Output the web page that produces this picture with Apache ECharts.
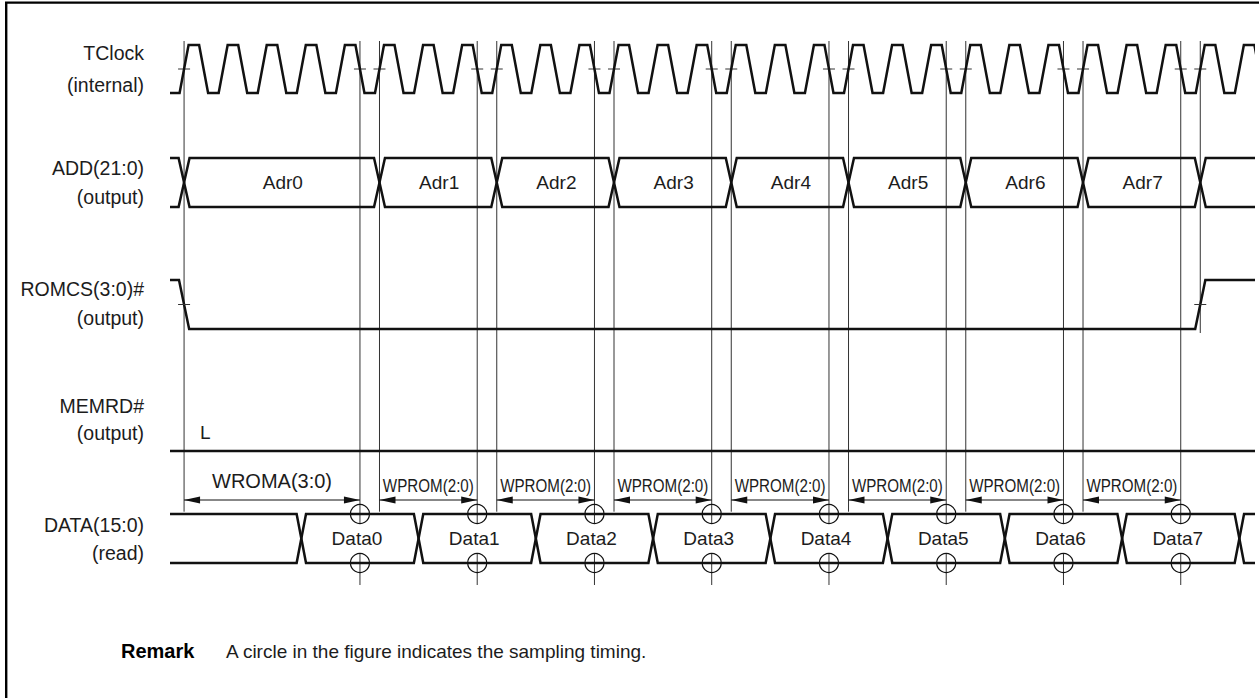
<!DOCTYPE html>
<html>
<head>
<meta charset="utf-8">
<script src="https://cdn.jsdelivr.net/npm/echarts/dist/echarts.min.js"></script>
<style>
html,body{margin:0;padding:0;background:#fff;}
#chart{width:1259px;height:698px;}
</style>
</head>
<body>
<div id="chart"></div>
<script>
// ---------------- data (times in clock cycles, t=0 at first rising edge) ----------------
const signalNames = ['TClock', 'ADD(21:0)', 'ROMCS(3:0)#', 'MEMRD#', 'DATA(15:0)'];
const signalDirs  = ['(internal)', '(output)', '(output)', '(output)', '(read)'];
const clockRises  = [0, 1, 2, 3, 4, 5, 6, 7, 8, 9, 10, 11, 12, 13, 14, 15, 16, 17, 18, 19, 20, 21, 22, 23, 24, 25, 26, 27];
const addrLabels  = ['Adr0', 'Adr1', 'Adr2', 'Adr3', 'Adr4', 'Adr5', 'Adr6', 'Adr7'];
const addrChanges = [0, 5, 8, 11, 14, 17, 20, 23, 26];
const romcsEdges  = [0, 26];           // falling edge, rising edge
const memrdText   = 'L';
const dataLabels  = ['Data0', 'Data1', 'Data2', 'Data3', 'Data4', 'Data5', 'Data6', 'Data7'];
const dataChanges = [3, 6, 9, 12, 15, 18, 21, 24, 27];
const accessStarts = [0, 5, 8, 11, 14, 17, 20, 23];
const sampleTimes  = [4.5, 7.5, 10.5, 13.5, 16.5, 19.5, 22.5, 25.5];
const accessEnd    = 26;
const waitLabels   = ['WROMA(3:0)', 'WPROM(2:0)', 'WPROM(2:0)', 'WPROM(2:0)', 'WPROM(2:0)', 'WPROM(2:0)', 'WPROM(2:0)', 'WPROM(2:0)'];
const remarkTitle  = 'Remark';
const remarkText   = 'A circle in the figure indicates the sampling timing.';

// ---------------- layout / style ----------------
const XMIN = -0.36, XMAX = 27.4;
const ROW = {
  clock: {hi: 45, lo: 93},
  add:   {hi: 158, lo: 207},
  romcs: {hi: 280, lo: 329},
  memrd: {lo: 451},
  data:  {hi: 514, lo: 563}
};
const GUIDE = {top: 41, startBottom: 511.7, sampleBottom: 585, endBottom: 333, dimY: 500};
const CIRCLE_R = 9.5;
const LABEL_Y = [[53.3, 85], [167.7, 196.7], [289.3, 318.3], [406, 433.3], [525, 553.3]];
const INK = '#111';
const TXT = '#1c1c1c';
const FONT = '"Liberation Sans", Arial, Helvetica, sans-serif';
const WAVE_W = 2.5;

const chart = echarts.init(document.getElementById('chart'), null, {renderer: 'svg'});

function line(p1, p2, w, color) {
  return {type: 'line', shape: {x1: p1[0], y1: p1[1], x2: p2[0], y2: p2[1]},
          style: {stroke: color || INK, lineWidth: w || 1}};
}
function poly(api, pts, closed) {
  return {type: closed ? 'polygon' : 'polyline',
          shape: {points: pts.map(p => api.coord(p))},
          style: {stroke: INK, lineWidth: WAVE_W, fill: closed ? 'none' : null, lineJoin: 'miter'}};
}
function txt(x, y, text, size, opts) {
  opts = opts || {};
  return {type: 'text', x: x, y: y, scaleX: opts.scaleX || 1,
          style: {text: text, fill: TXT, fontSize: size, fontFamily: FONT, fontWeight: opts.bold ? 'bold' : 'normal',
                  align: opts.align || 'center', verticalAlign: 'middle',
                  textAlign: opts.align || 'center', textVerticalAlign: 'middle'}};
}

// ---- render functions ----
function renderGuides(params, api) {
  const ch = [];
  accessStarts.forEach(t => {
    const x = api.coord([t, 0])[0];
    ch.push(line([x, GUIDE.top], [x, GUIDE.startBottom], 1, '#333'));
  });
  sampleTimes.forEach(t => {
    const x = api.coord([t, 0])[0];
    // interrupted inside the data bus (between the two sampling circles)
    ch.push(line([x, GUIDE.top], [x, ROW.data.hi + CIRCLE_R], 1, '#333'));
    ch.push(line([x, ROW.data.lo - CIRCLE_R], [x, GUIDE.sampleBottom], 1, '#333'));
  });
  const xe = api.coord([accessEnd, 0])[0];
  ch.push(line([xe, GUIDE.top], [xe, GUIDE.endBottom], 1, '#333'));
  // tick marks on the clock at every guide
  const cm = (ROW.clock.hi + ROW.clock.lo) / 2;
  accessStarts.concat(sampleTimes, [accessEnd]).forEach(t => {
    const p = api.coord([t, cm]);
    ch.push(line([p[0] - 6, p[1]], [p[0] + 6, p[1]], 1, '#333'));
  });
  return {type: 'group', children: ch};
}

function renderClock(params, api) {
  const hi = ROW.clock.hi, lo = ROW.clock.lo;
  const pts = [[XMIN - 1, lo]];
  clockRises.forEach(n => {
    pts.push([n - 0.115, lo], [n + 0.115, hi], [n + 0.385, hi], [n + 0.615, lo]);
  });
  pts.push([XMAX + 1, lo]);
  return poly(api, pts, false);
}

function busGroup(api, changes, labels, row, h, labelShift) {
  const hi = row.hi, lo = row.lo, mid = (hi + lo) / 2;
  const ch = [];
  const a0 = changes[0];
  ch.push(poly(api, [[XMIN - 1, hi], [a0 - h, hi], [a0, mid], [a0 - h, lo], [XMIN - 1, lo]], false));
  for (let i = 0; i < changes.length - 1; i++) {
    const a = changes[i], b = changes[i + 1];
    ch.push(poly(api, [[a, mid], [a + h, hi], [b - h, hi], [b, mid], [b - h, lo], [a + h, lo]], true));
    const c = api.coord([(a + b) / 2, mid]);
    ch.push(txt(c[0] + labelShift, c[1], labels[i], 19));
  }
  const z = changes[changes.length - 1];
  ch.push(poly(api, [[XMAX + 1, hi], [z + h, hi], [z, mid], [z + h, lo], [XMAX + 1, lo]], false));
  return ch;
}

function renderAddr(params, api) {
  return {type: 'group', children: busGroup(api, addrChanges, addrLabels, ROW.add, 0.14, 1)};
}

function renderRomcs(params, api) {
  const hi = ROW.romcs.hi, lo = ROW.romcs.lo, mid = (hi + lo) / 2;
  const f = romcsEdges[0], r = romcsEdges[1], e = 0.13;
  const ch = [poly(api, [[XMIN - 1, hi], [f - e, hi], [f + e, lo], [r - e, lo], [r + e, hi], [XMAX + 1, hi]], false)];
  romcsEdges.forEach(t => {
    const p = api.coord([t, mid]);
    ch.push(line([p[0] - 6, p[1]], [p[0] + 6, p[1]], 1, '#333'));
  });
  return {type: 'group', children: ch};
}

function renderMemrd(params, api) {
  const lo = ROW.memrd.lo;
  const p = api.coord([accessStarts[0], lo]);
  return {type: 'group', children: [
    poly(api, [[XMIN - 1, lo], [XMAX + 1, lo]], false),
    txt(p[0] + 16, p[1] - 18.5, memrdText, 19, {align: 'left'})
  ]};
}

function renderData(params, api) {
  const ch = busGroup(api, dataChanges, dataLabels, ROW.data, 0.12, -3);
  sampleTimes.forEach(t => {
    [ROW.data.hi, ROW.data.lo].forEach(y => {
      const p = api.coord([t, y]);
      ch.push({type: 'circle', shape: {cx: p[0], cy: p[1], r: CIRCLE_R}, style: {stroke: INK, lineWidth: 1.2, fill: 'none'}});
    });
  });
  return {type: 'group', children: ch};
}

function renderDims(params, api) {
  const ch = [];
  const y = GUIDE.dimY, L = 16, W = 3.6;
  accessStarts.forEach((s, i) => {
    const x0 = api.coord([s, y])[0], x1 = api.coord([sampleTimes[i], y])[0];
    ch.push(line([x0, y], [x1, y], 1, INK));
    ch.push({type: 'polygon', shape: {points: [[x0, y], [x0 + L, y - W], [x0 + L, y + W]]}, style: {fill: INK}});
    ch.push({type: 'polygon', shape: {points: [[x1, y], [x1 - L, y - W], [x1 - L, y + W]]}, style: {fill: INK}});
    const cx = (x0 + x1) / 2;
    if (i === 0) ch.push(txt(cx, 481, waitLabels[i], 20));
    else ch.push(txt(cx, 486, waitLabels[i], 18.5, {scaleX: 0.82}));
  });
  return {type: 'group', children: ch};
}

// ---- signal name labels & frame ----
const graphics = [
  {type: 'rect', shape: {x: 6.2, y: 2.6, width: 1300, height: 800}, style: {fill: 'none', stroke: '#000', lineWidth: 2.4}, silent: true}
];
signalNames.forEach((n, i) => {
  graphics.push({type: 'text', x: 144, y: LABEL_Y[i][0], style: {text: n, fill: TXT, fontSize: 19.5, fontFamily: FONT, align: 'right', verticalAlign: 'middle', textAlign: 'right', textVerticalAlign: 'middle'}});
  graphics.push({type: 'text', x: 144, y: LABEL_Y[i][1], style: {text: signalDirs[i], fill: TXT, fontSize: 19.5, fontFamily: FONT, align: 'right', verticalAlign: 'middle', textAlign: 'right', textVerticalAlign: 'middle'}});
});
graphics.push({type: 'text', x: 121, y: 651, style: {text: remarkTitle, fill: '#000', fontSize: 20, fontWeight: 'bold', fontFamily: FONT, align: 'left', verticalAlign: 'middle', textAlign: 'left', textVerticalAlign: 'middle'}});
graphics.push({type: 'text', x: 226, y: 651, style: {text: remarkText, fill: TXT, fontSize: 19, fontFamily: FONT, align: 'left', verticalAlign: 'middle', textAlign: 'left', textVerticalAlign: 'middle'}});

const one = [0];
chart.setOption({
  backgroundColor: '#fff',
  animation: false,
  grid: {left: 170, top: 0, width: 1085, height: 698, show: false},
  xAxis: {type: 'value', min: XMIN, max: XMAX, show: false},
  yAxis: {type: 'value', min: 0, max: 698, inverse: true, show: false},
  graphic: {elements: graphics},
  series: [
    {type: 'custom', name: 'guides', renderItem: renderGuides, data: one, silent: true, z: 1},
    {type: 'custom', name: 'TClock', renderItem: renderClock, data: one, clip: true, silent: true, z: 2},
    {type: 'custom', name: 'ADD', renderItem: renderAddr, data: one, clip: true, silent: true, z: 2},
    {type: 'custom', name: 'ROMCS', renderItem: renderRomcs, data: one, clip: true, silent: true, z: 2},
    {type: 'custom', name: 'MEMRD', renderItem: renderMemrd, data: one, clip: true, silent: true, z: 2},
    {type: 'custom', name: 'DATA', renderItem: renderData, data: one, clip: true, silent: true, z: 2},
    {type: 'custom', name: 'waits', renderItem: renderDims, data: one, silent: true, z: 3}
  ]
});
</script>
</body>
</html>
